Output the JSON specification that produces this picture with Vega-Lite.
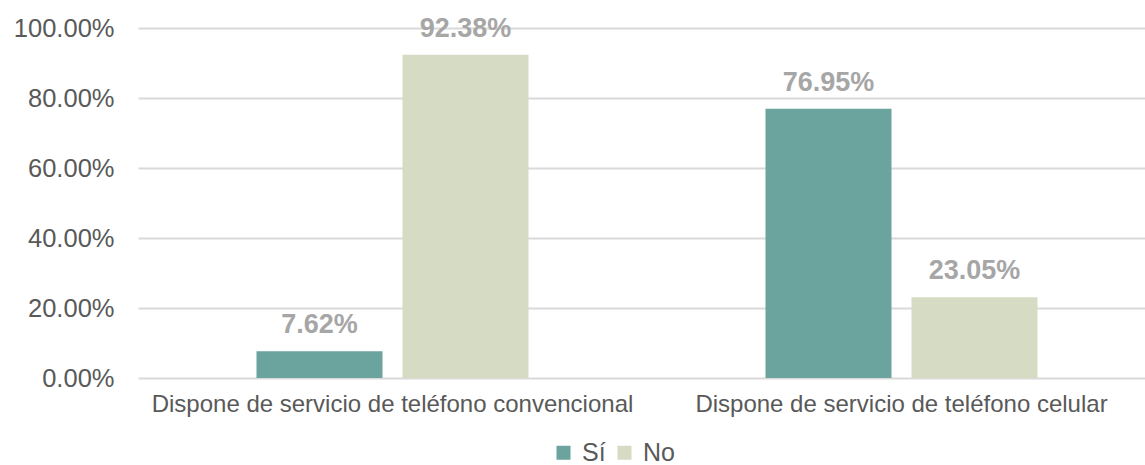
{
  "$schema": "https://vega.github.io/schema/vega-lite/v6.json",
  "width": 1005,
  "height": 350,
  "autosize": "none",
  "padding": {"left": 138, "top": 28, "right": 2, "bottom": 87},
  "config": {"view": {"stroke": null}, "font": "Liberation Sans"},
  "data": {
    "values": [
      {"cat": "Dispone de servicio de teléfono convencional", "resp": "Sí", "value": 0.0762},
      {"cat": "Dispone de servicio de teléfono convencional", "resp": "No", "value": 0.9238},
      {"cat": "Dispone de servicio de teléfono celular", "resp": "Sí", "value": 0.7695},
      {"cat": "Dispone de servicio de teléfono celular", "resp": "No", "value": 0.2305}
    ]
  },
  "encoding": {
    "x": {
      "field": "cat",
      "type": "nominal",
      "sort": ["Dispone de servicio de teléfono convencional", "Dispone de servicio de teléfono celular"],
      "scale": {"range": [0, 1018], "paddingInner": 0, "paddingOuter": 0},
      "axis": {
        "title": null,
        "labelAngle": 0,
        "labelFontSize": 24,
        "labelColor": "#595959",
        "labelPadding": 14,
        "ticks": false,
        "domain": false,
        "labelLimit": 600
      }
    },
    "xOffset": {
      "field": "resp",
      "sort": ["Sí", "No"],
      "scale": {"paddingInner": 0.137, "paddingOuter": 0.8116}
    },
    "y": {
      "field": "value",
      "type": "quantitative",
      "scale": {"domain": [0, 1]},
      "axis": {
        "title": null,
        "format": ".2%",
        "values": [0, 0.2, 0.4, 0.6, 0.8, 1],
        "labelFontSize": 25.5,
        "labelColor": "#595959",
        "labelPadding": 24,
        "ticks": false,
        "domain": false,
        "gridColor": "#d9d9d9",
        "gridWidth": 2
      }
    }
  },
  "layer": [
    {
      "mark": {"type": "bar"},
      "encoding": {
        "color": {
          "field": "resp",
          "type": "nominal",
          "sort": ["Sí", "No"],
          "scale": {"domain": ["Sí", "No"], "range": ["#6ba39e", "#d6dbc4"]},
          "legend": {
            "title": null,
            "orient": "none",
            "legendX": 413,
            "legendY": 412,
            "direction": "horizontal",
            "labelFontSize": 25,
            "labelColor": "#595959",
            "symbolType": "square",
            "symbolSize": 196,
            "symbolStrokeWidth": 0,
            "columnPadding": 6,
            "labelOffset": 6
          }
        }
      }
    },
    {
      "mark": {
        "type": "text",
        "baseline": "alphabetic",
        "dy": -18,
        "fontWeight": "bold",
        "fontSize": 27,
        "color": "#a6a6a6"
      },
      "encoding": {
        "text": {"field": "value", "type": "quantitative", "format": ".2%"}
      }
    }
  ]
}
